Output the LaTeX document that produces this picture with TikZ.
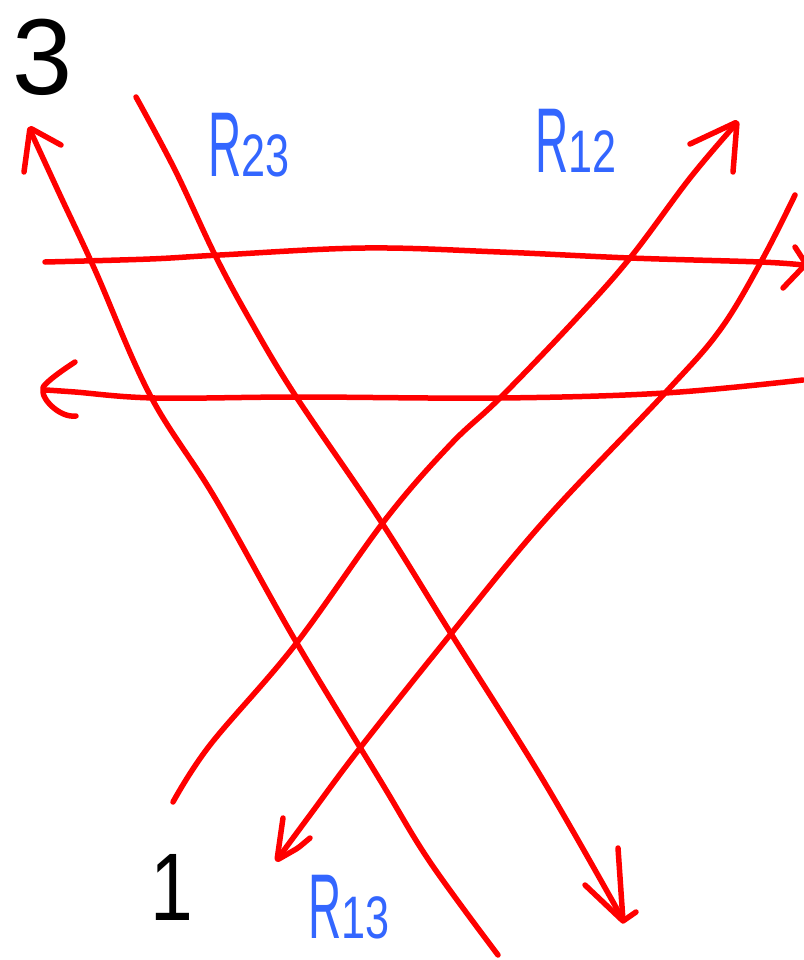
\documentclass[tikz,border=0pt]{standalone}
\usepackage{fontspec}
\setmainfont{Liberation Sans}
\definecolor{penred}{RGB}{255,0,0}
\definecolor{penblue}{RGB}{51,102,255}
\tikzset{
  stroke/.style={draw=penred, line width=5.5pt, line cap=round, line join=round},
  barb/.style={draw=penred, line width=5.5pt, line cap=round, line join=round, rounded corners=2pt},
  rlabel/.style={text=penblue, anchor=base west, inner sep=0pt},
  numlabel/.style={text=black, anchor=base west, inner sep=0pt}
}
\newcommand{\Rlab}[1]{\scalebox{0.5}[1]{\fontsize{92}{92}\selectfont R}\scalebox{0.72}[1]{\fontsize{60}{60}\selectfont #1}}
\begin{document}
\begin{tikzpicture}[x=1pt,y=-1pt]
\useasboundingbox (0,0) rectangle (803,960);
% line A: bottom to top-left
\draw[stroke] plot[smooth, tension=0.6] coordinates {(498,955) (430,862) (380,780) (295,640) (215,498) (150,395) (95,270) (60,195) (30,130)};
\draw[barb] (24,172) -- (30,128) -- (61,145);
% line B: top to bottom-right
\draw[stroke] plot[smooth, tension=0.6] coordinates {(136,97) (175,170) (215,255) (250,320) (295,395) (380,520) (450,632) (543,780) (622,918)};
\draw[barb] (585,885) -- (623,921) -- (618,848);
\draw[barb] (623,921) -- (636,912);
% line C: bottom-left to top-right
\draw[stroke] plot[smooth, tension=0.6] coordinates {(173,802) (210,745) (295,645) (385,520) (450,445) (500,398) (575,320) (630,258) (690,178) (735,125)};
\draw[barb] (690,144) -- (737,122) -- (733,172);
% line D: top-right to bottom-left
\draw[stroke] plot[smooth, tension=0.6] coordinates {(795,195) (762,260) (720,330) (665,393) (545,520) (450,635) (360,748) (310,815) (279,857)};
\draw[barb] (283,818) -- (277,860) -- (298,848) -- (310,838);
% top horizontal
\draw[stroke] plot[smooth, tension=0.6] coordinates {(45,262) (150,259) (220,255) (365,248) (500,252) (630,258) (760,262) (803,265)};
\draw[barb] (795,247) -- (806,264) -- (783,288);
% lower horizontal
\draw[stroke] plot[smooth, tension=0.6] coordinates {(803,380) (665,393) (500,398) (300,397) (155,398) (75,392) (46,390)};
\draw[barb] (75,362) .. controls (55,375) and (43,385) .. (43,390) .. controls (43,400) and (60,418) .. (76,416);
% labels
\node[numlabel] (n3) at (12,95) {\fontsize{108}{108}\selectfont 3};
\node[numlabel] (n1) at (150,920) {\scalebox{0.8}[1]{\fontsize{96}{96}\selectfont 1}};
\node[rlabel] (r23) at (208,177) {\Rlab{23}};
\node[rlabel] (r12) at (535,172) {\Rlab{12}};
\node[rlabel] (r13) at (308,938) {\Rlab{13}};
\end{tikzpicture}
\end{document}
